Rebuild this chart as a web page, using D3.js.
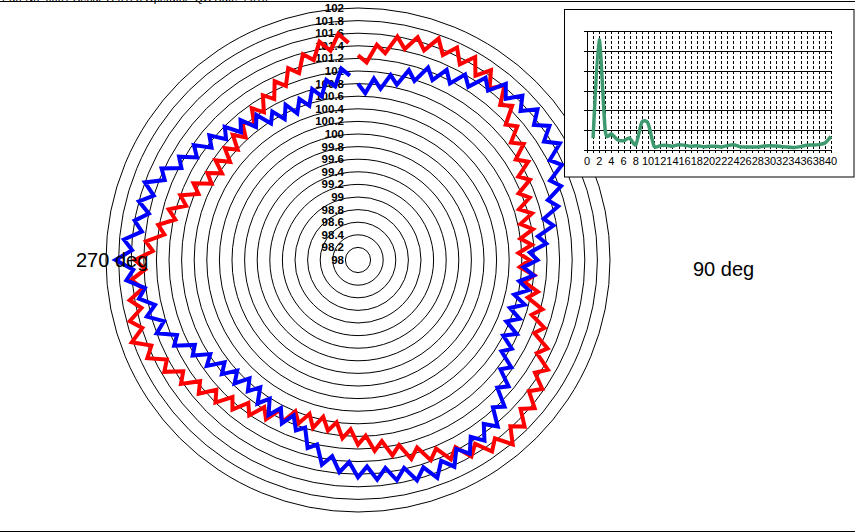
<!DOCTYPE html>
<html>
<head>
<meta charset="utf-8">
<script src="https://cdn.jsdelivr.net/npm/d3@7/dist/d3.min.js"></script>
<style>
  html, body { margin: 0; padding: 0; background: #fff; }
  svg { display: block; font-family: "Liberation Sans", Arial, sans-serif; }
</style>
</head>
<body>
<svg id="chart" width="855" height="532"></svg>
<script>
// ---------- data ----------
const ringTicks = [98, 98.2, 98.4, 98.6, 98.8, 99, 99.2, 99.4, 99.6, 99.8, 100,
  100.2, 100.4, 100.6, 100.8, 101, 101.2, 101.4, 101.6, 101.8, 102];

// polar traces: 144 samples, one every 2.5 deg, clockwise from top
const redValues = [
  101.25, 101.14, 101.43, 101.31, 101.6, 101.43, 101.66, 101.49,
  101.74, 101.52, 101.72, 101.5, 101.72, 101.47, 101.68, 101.43,
  101.62, 101.34, 101.46, 101.18, 101.3, 101.06, 101.21, 100.97,
  101.12, 100.87, 101.01, 100.76, 100.9, 100.68, 100.86, 100.64,
  100.82, 100.6, 100.77, 100.55, 100.72, 100.57, 100.81, 100.66,
  100.9, 100.76, 101.03, 100.89, 101.15, 101.03, 101.32, 101.2,
  101.48, 101.33, 101.57, 101.42, 101.66, 101.5, 101.74, 101.58,
  101.82, 101.57, 101.71, 101.46, 101.6, 101.35, 101.49, 101.24,
  101.38, 101.12, 101.27, 101.01, 101.15, 100.9, 101.04, 100.79,
  100.93, 100.69, 100.84, 100.6, 100.75, 100.55, 100.76, 100.56,
  100.76, 100.6, 100.84, 100.68, 100.92, 100.77, 101.01, 100.86,
  101.1, 100.95, 101.2, 101.05, 101.3, 101.16, 101.43, 101.29,
  101.55, 101.42, 101.69, 101.55, 101.82, 101.59, 101.75, 101.52,
  101.68, 101.45, 101.61, 101.38, 101.54, 101.26, 101.38, 101.1,
  101.22, 100.97, 101.11, 100.86, 101.0, 100.74, 100.88, 100.62,
  100.76, 100.56, 100.76, 100.56, 100.76, 100.59, 100.81, 100.64,
  100.86, 100.7, 100.94, 100.78, 101.02, 100.88, 101.13, 100.99,
  101.24, 101.11, 101.38, 101.25, 101.52, 101.35, 101.6, 101.45
];
const blueValues = [
  100.8, 100.65, 100.89, 100.74, 100.98, 100.85, 101.12, 100.98,
  101.25, 101.09, 101.33, 101.16, 101.4, 101.26, 101.53, 101.39,
  101.65, 101.47, 101.69, 101.5, 101.72, 101.52, 101.71, 101.5,
  101.7, 101.43, 101.57, 101.3, 101.43, 101.16, 101.29, 101.02,
  101.15, 100.88, 101.0, 100.73, 100.85, 100.63, 100.8, 100.58,
  100.75, 100.54, 100.74, 100.53, 100.73, 100.55, 100.78, 100.6,
  100.82, 100.7, 100.97, 100.85, 101.12, 101.0, 101.29, 101.17,
  101.45, 101.28, 101.5, 101.33, 101.55, 101.38, 101.62, 101.45,
  101.68, 101.45, 101.62, 101.38, 101.55, 101.33, 101.5, 101.28,
  101.45, 101.21, 101.38, 101.14, 101.3, 101.0, 101.09, 100.79,
  100.88, 100.67, 100.86, 100.65, 100.84, 100.61, 100.78, 100.55,
  100.72, 100.55, 100.77, 100.6, 100.82, 100.67, 100.93, 100.78,
  101.03, 100.92, 101.22, 101.11, 101.4, 101.23, 101.47, 101.3,
  101.53, 101.41, 101.69, 101.57, 101.85, 101.59, 101.73, 101.46,
  101.6, 101.4, 101.6, 101.4, 101.6, 101.32, 101.44, 101.16,
  101.28, 101.03, 101.18, 100.93, 101.08, 100.84, 100.99, 100.75,
  100.9, 100.66, 100.81, 100.57, 100.72, 100.52, 100.72, 100.52,
  100.72, 100.57, 100.81, 100.66, 100.9, 100.78, 101.05, 100.93
];

// inset spectrum
const harmonics = [1,2,3,4,5,6,7,8,9,10,11,12,13,14,15,16,17,18,19,20,
  21,22,23,24,25,26,27,28,29,30,31,32,33,34,35,36,37,38,39,40];
const amplitudes = [0.6, 5.56, 0.95, 0.81, 0.52, 0.47, 0.6, 0.27, 1.4, 1.35,
  0.19, 0.22, 0.24, 0.19, 0.27, 0.24, 0.19, 0.22, 0.17, 0.19,
  0.19, 0.15, 0.22, 0.27, 0.17, 0.15, 0.15, 0.15, 0.2, 0.22,
  0.2, 0.17, 0.15, 0.13, 0.17, 0.24, 0.25, 0.27, 0.35, 0.69];
const xTickLabels = [0,2,4,6,8,10,12,14,16,18,20,22,24,26,28,30,32,34,36,38,40];
const yGrid = [0,1,2,3,4,5,6];

const headerText = "Part No: 0001    Serial: A-0123    Operator: QC    Date: 2010";

// ---------- drawing ----------
const svg = d3.select("#chart");
const cx = 358, cy = 260;
const rScale = d3.scaleLinear().domain([98, 102]).range([0, 252]);

// header (clipped at top, as in the source) and frame lines
svg.append("text").attr("x", 2).attr("y", 2).attr("font-size", 11)
  .attr("fill", "#000").text(headerText);
svg.append("line").attr("x1", 0).attr("x2", 855).attr("y1", 1.5).attr("y2", 1.5)
  .attr("stroke", "#000").attr("stroke-width", 1);
svg.append("line").attr("x1", 0).attr("x2", 855).attr("y1", 531.5).attr("y2", 531.5)
  .attr("stroke", "#000").attr("stroke-width", 1);

const polar = svg.append("g").attr("transform", `translate(${cx},${cy})`);

// rings
polar.selectAll("circle.ring").data(ringTicks.filter(t => t > 98)).enter()
  .append("circle").attr("class", "ring")
  .attr("r", d => rScale(d))
  .attr("fill", "none").attr("stroke", "#000").attr("stroke-width", 1);

// ring labels
polar.selectAll("text.rl").data(ringTicks).enter()
  .append("text").attr("class", "rl")
  .attr("x", -14).attr("y", d => -rScale(d) + 4)
  .attr("text-anchor", "end").attr("font-size", 11.5).attr("font-weight", "bold")
  .attr("fill", "#000")
  .text(d => d3.format("")(d));

// traces
const angleOf = i => i * 2 * Math.PI / 144;
const radial = d3.lineRadial()
  .angle((d, i) => angleOf(i))
  .radius(d => rScale(d));

polar.append("path").datum(redValues).attr("d", radial)
  .attr("fill", "none").attr("stroke", "#ff0000").attr("stroke-width", 4)
  .attr("stroke-linejoin", "miter");
polar.append("path").datum(blueValues).attr("d", radial)
  .attr("fill", "none").attr("stroke", "#0000ff").attr("stroke-width", 4)
  .attr("stroke-linejoin", "miter");

// angle labels
svg.append("text").attr("x", 76).attr("y", 267).attr("font-size", 20)
  .attr("fill", "#000").text("270 deg");
svg.append("text").attr("x", 693).attr("y", 276).attr("font-size", 20)
  .attr("fill", "#000").text("90 deg");

// ---------- inset ----------
svg.append("rect").attr("x", 564.5).attr("y", 9.5).attr("width", 289.5).attr("height", 167.5)
  .attr("fill", "#fff").attr("stroke", "#000").attr("stroke-width", 1);

const ix = d3.scaleLinear().domain([0, 40]).range([587, 831]);
const iy = d3.scaleLinear().domain([0, 6]).range([150, 31]);

const ig = svg.append("g");
// vertical dashed grid
ig.selectAll("line.vg").data(d3.range(1, 41)).enter().append("line")
  .attr("x1", d => Math.round(ix(d)) + 0.5).attr("x2", d => Math.round(ix(d)) + 0.5)
  .attr("y1", iy(6)).attr("y2", iy(0) + 3)
  .attr("stroke", "#000").attr("stroke-width", 1).attr("stroke-dasharray", "3,2");
// horizontal grid
ig.selectAll("line.hg").data(yGrid).enter().append("line")
  .attr("x1", ix(0) - 3).attr("x2", ix(40) + 1)
  .attr("y1", d => Math.round(iy(d)) + 0.5).attr("y2", d => Math.round(iy(d)) + 0.5)
  .attr("stroke", "#000").attr("stroke-width", 1);
// y axis line
ig.append("line").attr("x1", ix(0) + 0.5).attr("x2", ix(0) + 0.5)
  .attr("y1", iy(6)).attr("y2", iy(0) + 3)
  .attr("stroke", "#000").attr("stroke-width", 1);
// x labels
ig.selectAll("text.xl").data(xTickLabels).enter().append("text")
  .attr("x", d => ix(d)).attr("y", 165).attr("text-anchor", "middle")
  .attr("font-size", 11).attr("fill", "#000").text(d => d);

// spectrum line
const specLine = d3.line()
  .x((d, i) => ix(harmonics[i]))
  .y(d => iy(d))
  .curve(d3.curveCardinal.tension(0.3));
ig.append("path").datum(amplitudes).attr("d", specLine)
  .attr("fill", "none").attr("stroke", "#3d9a6f").attr("stroke-width", 3.5)
  .attr("stroke-linejoin", "round");
</script>
</body>
</html>
